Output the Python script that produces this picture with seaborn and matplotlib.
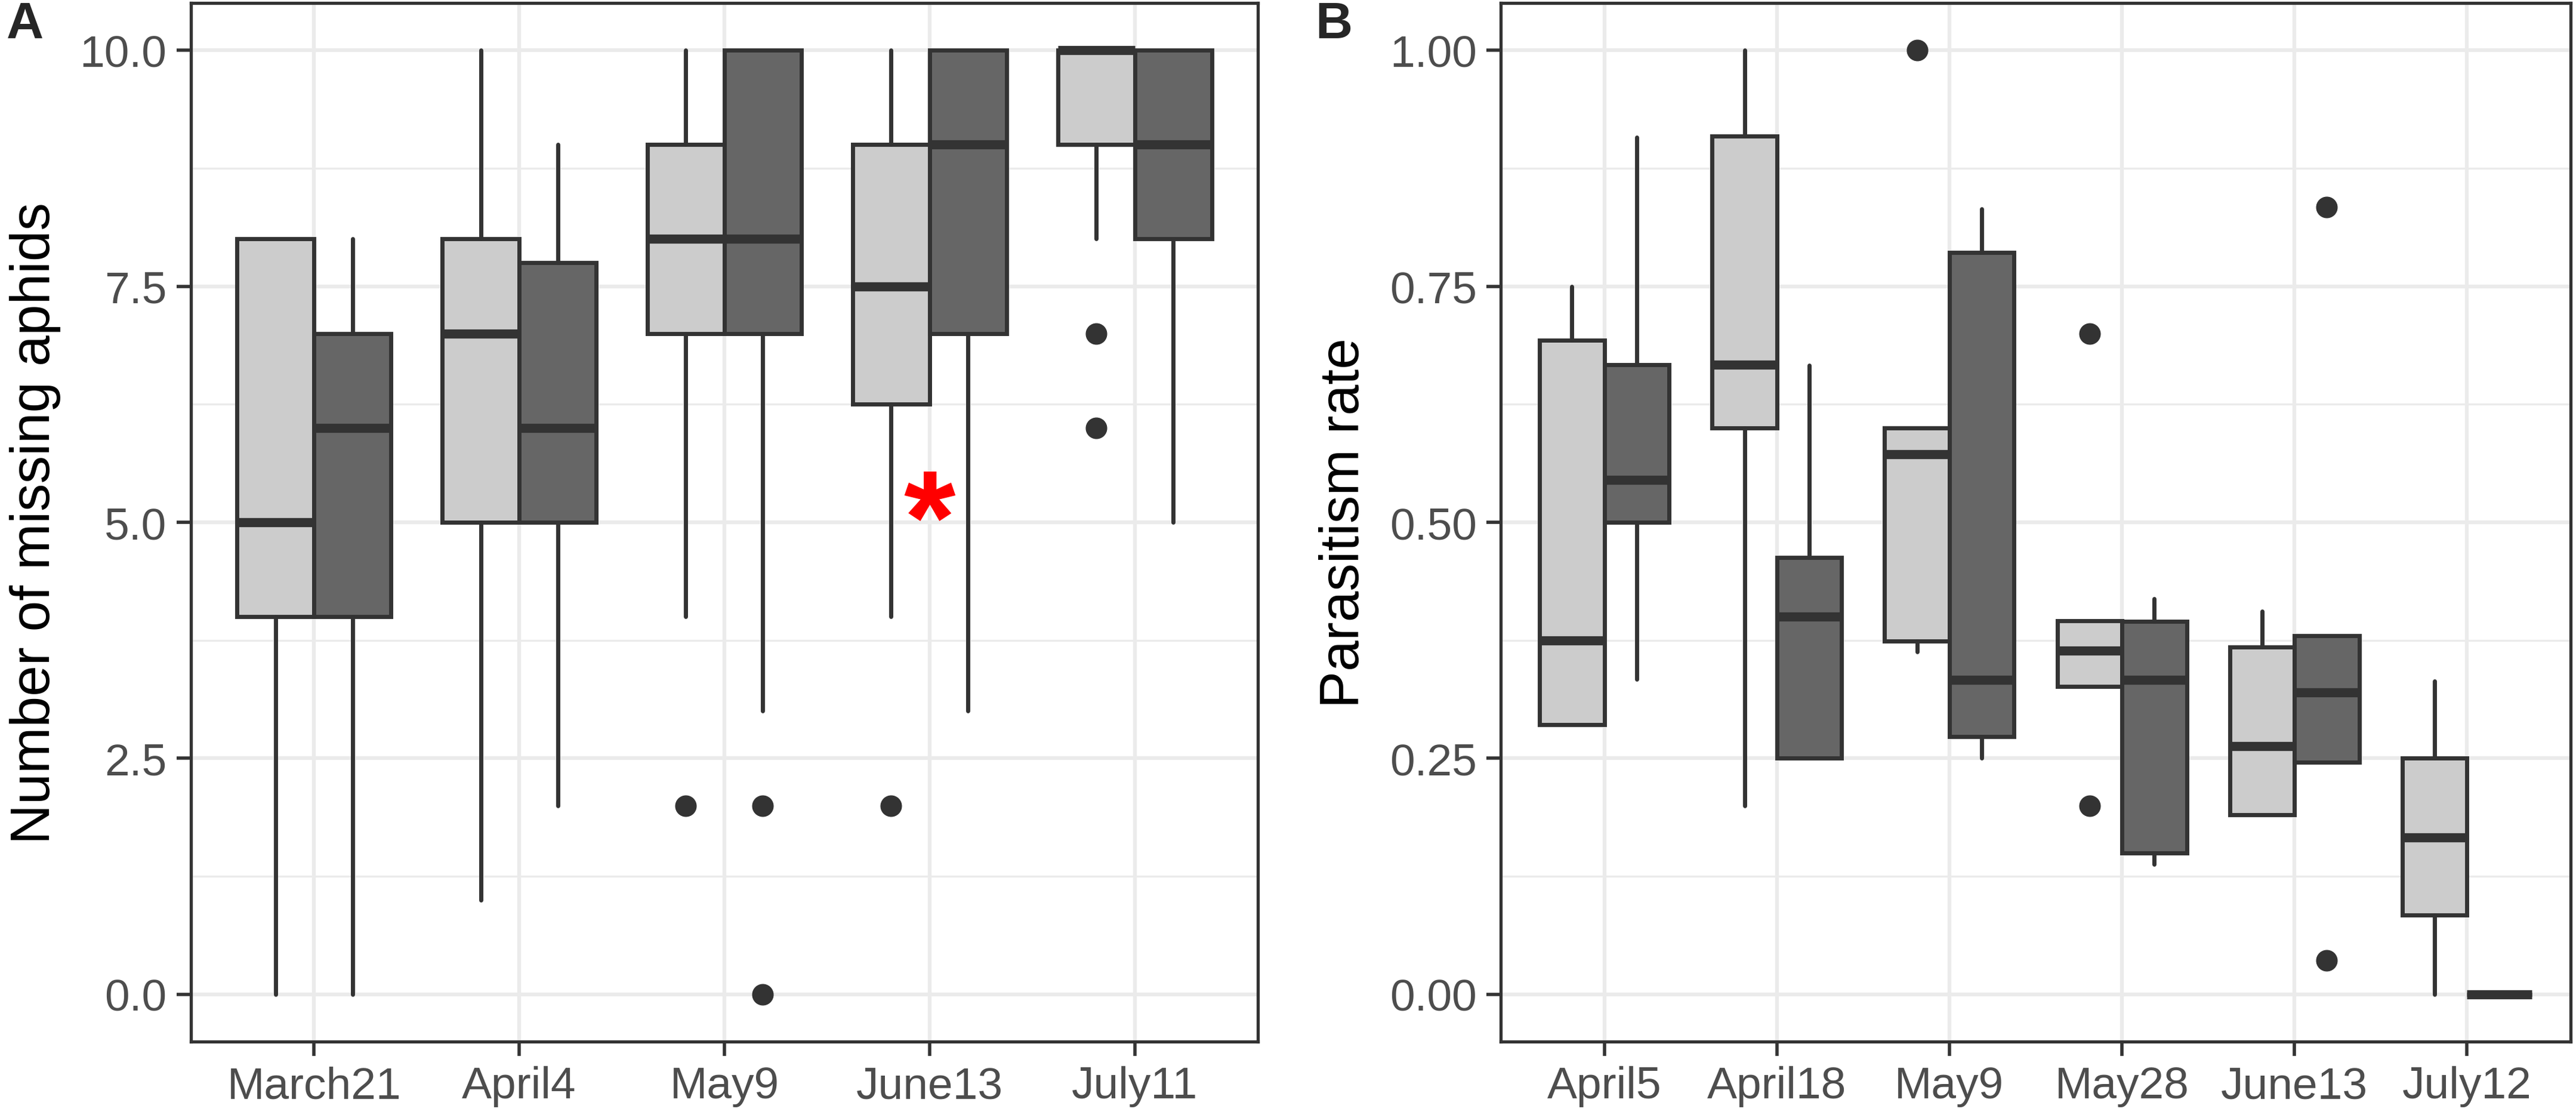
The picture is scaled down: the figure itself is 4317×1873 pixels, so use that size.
import matplotlib
matplotlib.use("Agg")
import matplotlib.pyplot as plt
import seaborn as sns
from matplotlib.ticker import FixedLocator, FormatStrFormatter

sns.set_theme(style="whitegrid")
plt.rcParams["font.family"] = ["Liberation Sans", "DejaVu Sans"]

# panel A: missing aphids, box stats
dates_a = ["March21", "April4", "May9", "June13", "July11"]
a_light_low = [0, 1, 4, 4, 8]
a_light_q1 = [4, 5, 7, 6.25, 9]
a_light_med = [5, 7, 8, 7.5, 10]
a_light_q3 = [8, 8, 9, 9, 10]
a_light_high = [8, 10, 10, 10, 10]
a_light_out = [[], [], [2], [2], [7, 6]]
a_dark_low = [0, 2, 3, 3, 5]
a_dark_q1 = [4, 5, 7, 7, 8]
a_dark_med = [6, 6, 8, 9, 9]
a_dark_q3 = [7, 7.75, 10, 10, 10]
a_dark_high = [8, 9, 10, 10, 10]
a_dark_out = [[], [], [2, 0], [], []]
star_date = "June13"
star_value = 5.3

# panel B: parasitism rate
dates_b = ["April5", "April18", "May9", "May28", "June13", "July12"]
b_light_low = [0.286, 0.20, 0.363, 0.326, 0.19, 0.0]
b_light_q1 = [0.286, 0.60, 0.374, 0.326, 0.19, 0.084]
b_light_med = [0.375, 0.667, 0.572, 0.364, 0.263, 0.166]
b_light_q3 = [0.693, 0.909, 0.60, 0.396, 0.368, 0.25]
b_light_high = [0.75, 1.0, 0.60, 0.396, 0.406, 0.332]
b_light_out = [[], [], [1.0], [0.70, 0.20], [], []]
b_dark_low = [0.334, 0.25, 0.25, 0.138, 0.246, 0.0]
b_dark_q1 = [0.50, 0.25, 0.273, 0.150, 0.246, 0.0]
b_dark_med = [0.545, 0.40, 0.333, 0.333, 0.320, 0.0]
b_dark_q3 = [0.667, 0.463, 0.786, 0.395, 0.380, 0.0]
b_dark_high = [0.908, 0.666, 0.832, 0.419, 0.380, 0.0]
b_dark_out = [[], [], [], [], [0.834, 0.036], []]

LIGHT = "#CCCCCC"
DARK = "#666666"
EDGE = "#333333"
GRID = "#EBEBEB"


def box_stats(low, q1, med, q3, high, out):
    return [dict(whislo=l, q1=a, med=m, q3=b, whishi=h, fliers=f)
            for l, a, m, b, h, f in zip(low, q1, med, q3, high, out)]


def draw_group(ax, stats, offset, color):
    pos = [i + offset for i in range(len(stats))]
    ax.bxp(stats, positions=pos, widths=0.375, patch_artist=True,
           showcaps=False, manage_ticks=False,
           boxprops=dict(facecolor=color, edgecolor=EDGE, linewidth=5),
           whiskerprops=dict(color=EDGE, linewidth=5),
           medianprops=dict(color=EDGE, linewidth=11, solid_capstyle="butt"),
           flierprops=dict(marker="o", markerfacecolor=EDGE,
                           markeredgecolor=EDGE, markersize=25))


def style_axes(ax, dates, ymax, yfmt, ylabel):
    n = len(dates)
    ax.set_xlim(-0.6, n - 0.4)
    ax.set_ylim(-0.05 * ymax, 1.05 * ymax)
    ax.set_xticks(range(n))
    ax.set_xticklabels(dates)
    ax.yaxis.set_major_locator(FixedLocator([ymax * k / 4 for k in range(5)]))
    ax.yaxis.set_minor_locator(FixedLocator([ymax * (k + 0.5) / 4 for k in range(4)]))
    ax.yaxis.set_major_formatter(FormatStrFormatter(yfmt))
    ax.set_axisbelow(True)
    ax.grid(which="major", color=GRID, linewidth=4.6)
    ax.grid(which="minor", axis="y", color=GRID, linewidth=2.4)
    ax.tick_params(which="major", bottom=True, left=True, length=17, width=4,
                   color=EDGE, labelsize=54, labelcolor="#4D4D4D", pad=12)
    ax.tick_params(which="minor", length=0)
    for sp in ax.spines.values():
        sp.set_visible(True)
        sp.set_color(EDGE)
        sp.set_linewidth(3.8)
    ax.set_xlabel("")
    ax.set_ylabel(ylabel, fontsize=67, color="black")
    ax.yaxis.set_label_coords(-0.122, 0.5)


fig = plt.figure(figsize=(43.17, 18.74), dpi=100)
ax_a = fig.add_axes([0.0741, 0.0683, 0.4142, 0.9285])
ax_b = fig.add_axes([0.5826, 0.0683, 0.4153, 0.9285])

draw_group(ax_a, box_stats(a_light_low, a_light_q1, a_light_med, a_light_q3,
                           a_light_high, a_light_out), -0.1875, LIGHT)
draw_group(ax_a, box_stats(a_dark_low, a_dark_q1, a_dark_med, a_dark_q3,
                           a_dark_high, a_dark_out), 0.1875, DARK)
style_axes(ax_a, dates_a, 10, "%.1f", "Number of missing aphids")
ax_a.text(dates_a.index(star_date), star_value - 0.72, "*", color="red",
          fontsize=160, fontweight="bold", ha="center", va="baseline")

draw_group(ax_b, box_stats(b_light_low, b_light_q1, b_light_med, b_light_q3,
                           b_light_high, b_light_out), -0.1875, LIGHT)
draw_group(ax_b, box_stats(b_dark_low, b_dark_q1, b_dark_med, b_dark_q3,
                           b_dark_high, b_dark_out), 0.1875, DARK)
style_axes(ax_b, dates_b, 1.0, "%.2f", "Parasitism rate")

fig.text(0.0025, 0.999, "A", fontsize=62, fontweight="bold", va="top")
fig.text(0.5105, 0.999, "B", fontsize=62, fontweight="bold", va="top")

fig.savefig("out.png", dpi=100)
